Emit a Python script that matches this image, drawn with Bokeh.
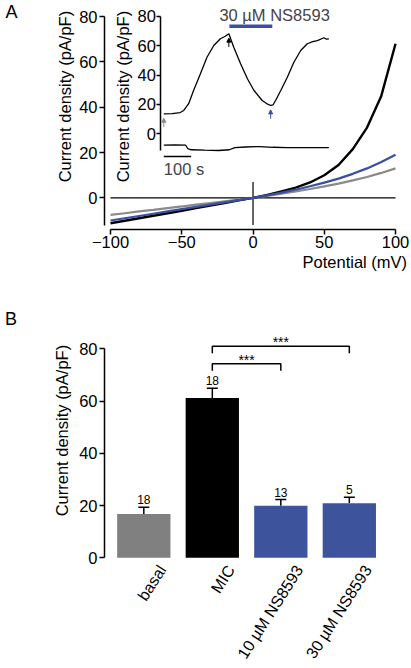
import math
from bokeh.plotting import figure
from bokeh.models import (Range1d, LinearAxis, FixedTicker, Label, Arrow, NormalHead,
                          Whisker, ColumnDataSource, TeeHead)
from bokeh.layouts import column
from bokeh.embed import file_html
from bokeh.resources import INLINE
from bokeh.core.properties import value

# ---------------- data: panel A, I-V relations ----------------
potential_mV = [-100, -90, -80, -70, -60, -50, -40, -30, -20, -10, 0,
                10, 20, 30, 40, 50, 60, 70, 80, 90, 100]
iv_basal = [-7.5, -6.8, -6.0, -5.3, -4.5, -3.8, -3.0, -2.3, -1.5, -0.75, 0,
            0.9, 1.8, 2.8, 3.9, 5.1, 6.3, 7.7, 9.2, 11.0, 13.0]
iv_mic = [-11.2, -10.1, -9.0, -7.9, -6.8, -5.7, -4.5, -3.4, -2.3, -1.1, 0,
          1.3, 2.8, 4.5, 6.8, 10.0, 14.5, 21.5, 31.0, 45.0, 68.0]
iv_ns8593 = [-10.0, -9.0, -8.0, -7.0, -6.0, -5.0, -4.0, -3.0, -2.0, -1.0, 0,
             1.1, 2.3, 3.6, 5.1, 6.7, 8.5, 10.6, 13.0, 15.8, 19.0]

# inset: time course of current density at +100 mV (upper) and -100 mV (lower)
time_pos_s = [0, 30, 60, 73, 91, 109, 134, 158, 183, 207, 225, 238, 256, 281, 306,
              330, 360, 380, 391, 400, 409, 428, 452, 476, 501, 525, 545, 562, 586, 595, 604]
inset_pos = [13.6, 13.8, 14.5, 15.9, 20.5, 29.5, 40.9, 52.2, 60.2, 64.8, 66.5, 68.2, 59.0, 47.7, 37.5,
             29.5, 22.7, 20.2, 19.3, 19.8, 22.7, 29.5, 38.6, 48.8, 56.8, 61.4, 62.8, 63.6, 65.5, 64.5, 64.8]
time_neg_s = [0, 40, 80, 88, 100, 150, 200, 240, 260, 300, 350, 400, 450, 500, 550, 604]
inset_neg = [-7.8, -7.6, -7.8, -10.2, -10.9, -11.2, -11.4, -10.9, -9.4, -9.0, -8.7, -9.2,
             -9.4, -9.5, -9.4, -9.5]
drug_window_s = [240, 397]
drug_label = "30 µM NS8593"
arrow_times_s = [0, 238, 391]
scale_bar_s = 100

# ---------------- data: panel B, bar chart ----------------
categories = ["basal", "MIC", "10 µM NS8593", "30 µM NS8593"]
means = [16.8, 61.2, 19.9, 20.9]
sems = [2.6, 3.7, 2.4, 2.3]
n_cells = [18, 18, 13, 5]
comparisons = [(1, 2), (1, 3)]
sig_text = ["***", "***"]

# ---------------- styles ----------------
FONT = "Liberation Sans"
FS = "16.5px"
BLACK = "#000000"
GRAY_LINE = "#8a8a8a"
BLUE_LINE = "#3b4fa0"
GRAY_BAR = "#808080"
BLUE_BAR = "#3d549c"


def style_axis(ax, ticks, bounds):
    ax.ticker = FixedTicker(ticks=ticks)
    ax.bounds = bounds
    ax.axis_line_width = 1.5
    ax.axis_line_color = BLACK
    ax.major_tick_line_width = 1.5
    ax.major_tick_line_color = BLACK
    ax.major_tick_out = 5
    ax.major_tick_in = 0
    ax.minor_tick_line_color = None
    ax.major_label_text_font = FONT
    ax.major_label_text_font_size = FS
    ax.major_label_text_color = BLACK


def add_label(p, x, y, text, **kw):
    opts = dict(text_align="center", text_baseline="middle", text_font=FONT,
                text_font_size=FS, text_color=BLACK)
    opts.update(kw)
    p.add_layout(Label(x=x, y=y, text=text, **opts))


def bare_figure(w, h, xr, yr):
    p = figure(width=w, height=h, x_range=xr, y_range=yr, x_axis_type=None, y_axis_type=None,
               output_backend="svg", toolbar_location=None,
               min_border=0, min_border_left=0, min_border_right=0,
               min_border_top=0, min_border_bottom=0)
    p.outline_line_color = None
    p.grid.visible = False
    p.background_fill_color = "white"
    return p


# ================= Panel A =================
pA = bare_figure(410, 300, Range1d(-177.2, 110.5), Range1d(-45.3, 87.1))

ax_v = LinearAxis(fixed_location=-14)
style_axis(ax_v, [-100, -50, 0, 50, 100], (-100, 100))
ax_v.major_label_standoff = 1
pA.add_layout(ax_v, "below")

ax_i = LinearAxis(fixed_location=-104.2)
style_axis(ax_i, [0, 20, 40, 60, 80], (-12, 80))
ax_i.major_label_standoff = 2
pA.add_layout(ax_i, "left")

# inset ranges (time / inset current density)
pA.extra_x_ranges = {"inset_t": Range1d(-597.5, 902.7)}
pA.extra_y_ranges = {"inset_y": Range1d(-113.7, 90.9)}
inset_axis = LinearAxis(y_range_name="inset_y", fixed_location=-64.6)
style_axis(inset_axis, [0, 20, 40, 60, 80], (-11.5, 80))
inset_axis.major_tick_out = 4
inset_axis.major_label_standoff = 1
pA.add_layout(inset_axis, "left")

# reference lines at 0 pA/pF and 0 mV
pA.segment(x0=potential_mV[0], y0=0, x1=potential_mV[-1], y1=0, line_color=BLACK, line_width=1.2)
pA.segment(x0=0, y0=-12, x1=0, y1=7, line_color=BLACK, line_width=1.2)

# I-V curves
pA.line(potential_mV, iv_basal, line_color=GRAY_LINE, line_width=2.2)
pA.line(potential_mV, iv_mic, line_color=BLACK, line_width=2.4)
pA.line(potential_mV, iv_ns8593, line_color=BLUE_LINE, line_width=2.2)

# inset traces
pA.line(time_pos_s, inset_pos, line_color=BLACK, line_width=1.3,
        x_range_name="inset_t", y_range_name="inset_y")
pA.line(time_neg_s, inset_neg, line_color=BLACK, line_width=1.3,
        x_range_name="inset_t", y_range_name="inset_y")
# drug application bar and label
pA.segment(x0=drug_window_s[0], y0=73.4, x1=drug_window_s[1], y1=73.4, line_color=BLUE_LINE,
           line_width=3.5, x_range_name="inset_t", y_range_name="inset_y")
pA.add_layout(Label(x=(drug_window_s[0] + drug_window_s[1]) / 2 + 87, y=80.7, text=drug_label,
                    x_range_name="inset_t", y_range_name="inset_y", text_align="center",
                    text_baseline="middle", text_font=FONT, text_font_size=FS))
# scale bar
pA.segment(x0=0, y0=-15.5, x1=scale_bar_s, y1=-15.5, line_color=BLACK, line_width=1.3,
           x_range_name="inset_t", y_range_name="inset_y")
pA.add_layout(Label(x=0, y=-24.1, text=f"{scale_bar_s} s", x_range_name="inset_t",
                    y_range_name="inset_y", text_align="left", text_baseline="middle",
                    text_font=FONT, text_font_size=FS))
# arrows marking the sampled time points
for t, col in zip(arrow_times_s, [GRAY_LINE, BLACK, BLUE_LINE]):
    i = min(range(len(time_pos_s)), key=lambda k: abs(time_pos_s[k] - t))
    tip = inset_pos[i] - 3
    pA.add_layout(Arrow(x_start=t, y_start=tip - 6, x_end=t, y_end=tip,
                        x_range_name="inset_t", y_range_name="inset_y",
                        line_color=col, line_width=1,
                        end=NormalHead(size=4, fill_color=col, line_color=col)))

# titles and panel letter
add_label(pA, -132.1, 44.7, "Current density (pA/pF)", angle=math.pi / 2)
add_label(pA, -91.4, 44.7, "Current density (pA/pF)", angle=math.pi / 2)
add_label(pA, 108.1, -28.3, "Potential (mV)", text_align="right")
add_label(pA, -169.5, 81.9, "A", text_font_size="18px")

# ================= Panel B =================
pB = bare_figure(410, 366, Range1d(-2.092, 3.893), Range1d(-41.6, 98.5))

xpos = list(range(len(categories)))
bar_colors = [GRAY_BAR, BLACK, BLUE_BAR, BLUE_BAR]
src = ColumnDataSource(dict(x=xpos, top=means, upper=[m + s for m, s in zip(means, sems)],
                            lower=means, color=bar_colors, n=[str(v) for v in n_cells]))
pB.vbar(x="x", top="top", width=0.778, bottom=0, fill_color="color", line_color=None, source=src)
pB.add_layout(Whisker(base="x", upper="upper", lower="lower", source=src, line_width=1.5,
                      line_color=BLACK, upper_head=TeeHead(size=11, line_width=1.5, line_color=BLACK),
                      lower_head=None))
pB.text(x="x", y="upper", text="n", source=src, text_align="center", text_baseline="bottom",
        y_offset=-3, text_font=value(FONT), text_font_size="12px", text_color=BLACK)

bracket_y = [74.3, 81.0]
drop = 2.7
for (a, b), yb, s in zip(comparisons, bracket_y, sig_text):
    pB.line([a, a, b, b], [yb - drop, yb, yb, yb - drop], line_color=BLACK, line_width=1.5)
    pB.text(x=[(a + b) / 2], y=[yb], text=[s], text_align="center", text_baseline="middle",
            y_offset=-4, text_font=value(FONT), text_font_size="14px", text_color=BLACK)

ay = LinearAxis(fixed_location=-0.574)
style_axis(ay, [0, 20, 40, 60, 80], (0, 80))
ay.major_label_standoff = 2
pB.add_layout(ay, "left")

# category labels: rotated, their ends sit a little right of the bar centres
label_shift = 0.27
xa = LinearAxis(fixed_location=0)
xa.ticker = FixedTicker(ticks=[x + label_shift for x in xpos])
xa.major_label_overrides = {x + label_shift: c for x, c in zip(xpos, categories)}
xa.axis_line_color = None
xa.major_tick_line_color = None
xa.minor_tick_line_color = None
xa.major_label_orientation = 1.0
xa.major_label_standoff = 3
xa.major_label_text_font = FONT
xa.major_label_text_font_size = "16px"
xa.major_label_text_color = BLACK
pB.add_layout(xa, "below")

add_label(pB, -1.191, 48.7, "Current density (pA/pF)", angle=math.pi / 2)
add_label(pB, -1.939, 91.4, "B", text_font_size="18px")

layout = column(pA, pB)
open("out.html", "w").write(file_html(layout, INLINE))
